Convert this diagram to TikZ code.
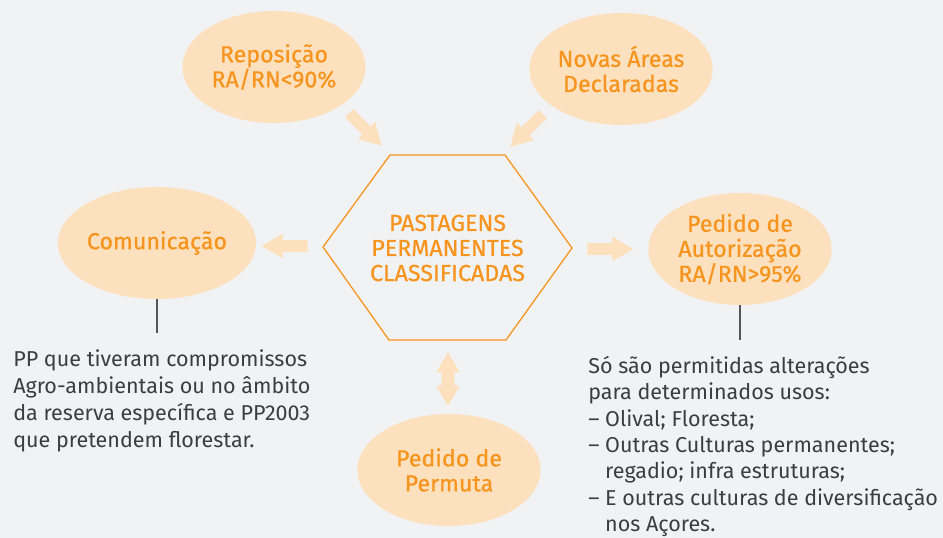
\documentclass[tikz,border=0pt]{standalone}
\usepackage{fontspec}
\setmainfont{Fira Sans}
\newfontfamily\bubblefont[FakeBold=0.6]{Fira Sans}
\usetikzlibrary{shapes.geometric,shapes.arrows}
\definecolor{bgcol}{HTML}{F1F2F4}
\definecolor{peach}{HTML}{FDE1BF}
\definecolor{orangetxt}{HTML}{F7941D}
\definecolor{notetxt}{HTML}{3D3D3D}
\definecolor{stemcol}{HTML}{555555}

\begin{document}
\begin{tikzpicture}[x=0.025cm, y=0.025cm,
            bubble/.style={ellipse, fill=peach, inner sep=0pt, align=center, text=orangetxt,
                           minimum width=4.58cm, minimum height=2.8cm,
                           font=\bubblefont\fontsize{16.5}{17.8}\selectfont},
            fatarrow/.style={single arrow, fill=peach, inner sep=0.1375cm, minimum width=0pt,
                             minimum height=1.15cm, single arrow head extend=0.1625cm,
                             single arrow tip angle=60, anchor=tip},
            twoarrow/.style={double arrow, fill=peach, inner sep=0.15cm, minimum width=0pt,
                             minimum height=1.35cm, double arrow head extend=0.1375cm,
                             double arrow tip angle=60},
            hexline/.style={draw=orangetxt, line width=0.9pt, line join=miter},
            note/.style={align=left, anchor=north west, text=notetxt, inner xsep=0pt, inner ysep=0.4cm,
                         font=\fontsize{15.3}{19.2}\selectfont},
            stem/.style={draw=stemcol, line width=0.8pt}
        ]

    \path[use as bounding box, fill=bgcol] (0,0) rectangle (943,538);

    \node[bubble] (repo)  at (274,471) {Reposição\\RA/RN<90\%};
    \node[bubble] (novas) at (621,469) {Novas Áreas\\Declaradas};
    \node[bubble] (comu)  at (157,295) {Comunicação};
    \node[bubble] (auto)  at (740,289) {Pedido de\\Autorização\\RA/RN>95\%};
    \node[bubble] (perm)  at (449,68)  {Pedido de\\Permuta};

    \node[align=center, text=orangetxt, font=\bubblefont\fontsize{16.5}{17.8}\selectfont] (hex) at (447.5,290)
        {PASTAGENS\\PERMANENTES\\CLASSIFICADAS};
    \draw[hexline] (390,383) -- (505,383) -- (572,290) -- (506,198) -- (389,198) -- (323,291) -- cycle;

    \node[fatarrow, rotate=-45]  (arrrepo)  at (382,392) {};
    \node[fatarrow, rotate=-135] (arrnovas) at (510,391) {};
    \node[fatarrow, rotate=180]  (arrcomu)  at (261,292) {};
    \node[fatarrow]              (arrauto)  at (634,289) {};
    \node[twoarrow, rotate=90]   (arrperm)  at (448,159) {};

    \node[note] (comunote) at (13,205)
        {PP que tiveram compromissos\\Agro-ambientais ou no âmbito\\da reserva específica e PP2003\\que pretendem florestar.};
    \node[note, font=\fontsize{15.3}{18.75}\selectfont] (autonote) at (588,198)
        {Só são permitidas alterações\\para determinados usos:\\– Olival; Floresta;\\– Outras Culturas permanentes;\\
         \phantom{– }regadio; infra estruturas;\\– E outras culturas de diversificação\\\phantom{– }nos Açores.};

    \draw[stem] (comu.south) -- (comu.south |- comunote.north);
    \draw[stem] (auto.south) -- (auto.south |- autonote.north);

        \end{tikzpicture}
\end{document}
